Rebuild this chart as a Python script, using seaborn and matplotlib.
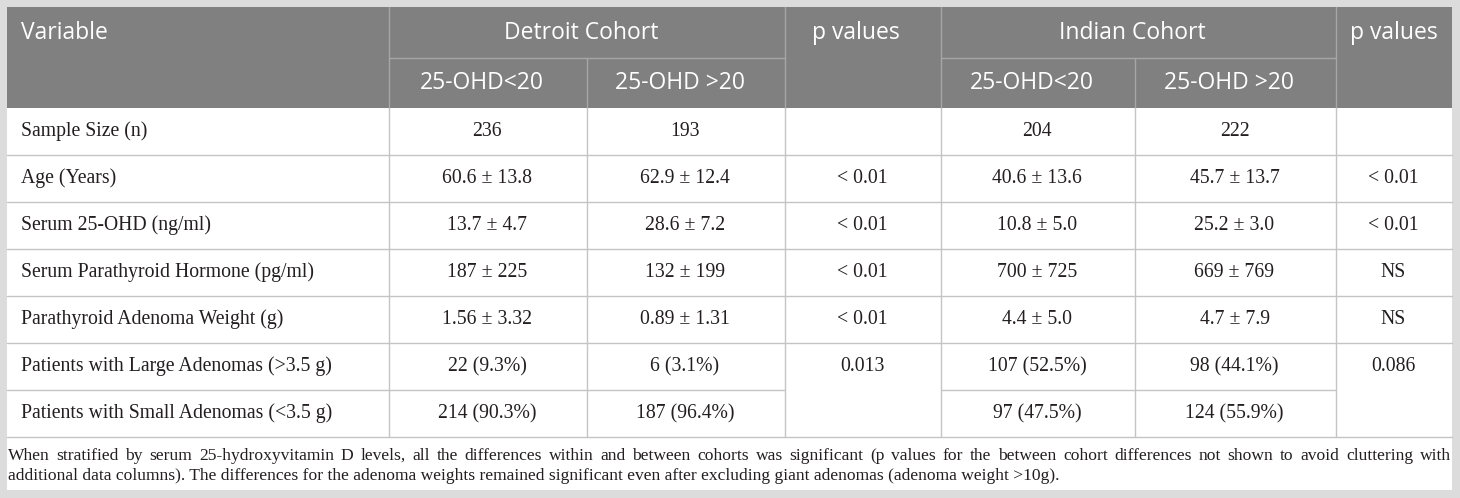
import matplotlib
matplotlib.use("Agg")
import matplotlib.pyplot as plt
import seaborn as sns
from matplotlib.patches import Rectangle

sns.set_theme(style="white")

# ---------------- data ----------------
variables = [
    "Sample Size (n)",
    "Age (Years)",
    "Serum 25-OHD (ng/ml)",
    "Serum Parathyroid Hormone (pg/ml)",
    "Parathyroid Adenoma Weight (g)",
    "Patients with Large Adenomas (>3.5 g)",
    "Patients with Small Adenomas (<3.5 g)",
]
detroit_low = ["236", "60.6 ± 13.8", "13.7 ± 4.7", "187 ± 225", "1.56 ± 3.32", "22 (9.3%)", "214 (90.3%)"]
detroit_high = ["193", "62.9 ± 12.4", "28.6 ± 7.2", "132 ± 199", "0.89 ± 1.31", "6 (3.1%)", "187 (96.4%)"]
detroit_p = ["", "< 0.01", "< 0.01", "< 0.01", "< 0.01", "0.013", None]
indian_low = ["204", "40.6 ± 13.6", "10.8 ± 5.0", "700 ± 725", "4.4 ± 5.0", "107 (52.5%)", "97 (47.5%)"]
indian_high = ["222", "45.7 ± 13.7", "25.2 ± 3.0", "669 ± 769", "4.7 ± 7.9", "98 (44.1%)", "124 (55.9%)"]
indian_p = ["", "< 0.01", "< 0.01", "NS", "NS", "0.086", None]

header_top = ["Variable", "Detroit Cohort", "p values", "Indian Cohort", "p values"]
header_sub = ["25-OHD<20", "25-OHD >20", "25-OHD<20", "25-OHD >20"]
footnote = [
    "When stratified by serum 25-hydroxyvitamin D levels, all the differences within and between cohorts was significant (p values for the between cohort differences not shown to avoid cluttering with",
    "additional data columns). The differences for the adenoma weights remained significant even after excluding giant adenomas (adenoma weight >10g).",
]

# ---------------- layout ----------------
W, H = 1460, 498
L, R = 7, 1452
col_x = [L, 389, 587, 785, 941, 1135, 1336, R]
hdr_top, hdr_mid, hdr_bot = 7, 58, 108
row_h = 47
n_rows = len(variables)
table_bot = hdr_bot + n_rows * row_h
foot_bot = 490

HEADER_BG = "#808080"
HEADER_LINE = "#a6a6a6"
GRID = "#c4c4c4"
FRAME = "#dcdcdc"
TXT = "#231f20"

fig = plt.figure(figsize=(W / 100, H / 100), dpi=100)
fig.patch.set_facecolor(FRAME)
ax = fig.add_axes([0, 0, 1, 1])
ax.set_xlim(0, W)
ax.set_ylim(H, 0)
ax.axis("off")

# white body
ax.add_patch(Rectangle((L, hdr_top), R - L, foot_bot - hdr_top, facecolor="white", edgecolor="none", zorder=0))
# header
ax.add_patch(Rectangle((L, hdr_top), R - L, hdr_bot - hdr_top, facecolor=HEADER_BG, edgecolor="none", zorder=1))

# header lines
for x in [col_x[1], col_x[3], col_x[4], col_x[6]]:
    ax.plot([x, x], [hdr_top, hdr_bot], color=HEADER_LINE, lw=1, zorder=2)
for x in [col_x[2], col_x[5]]:
    ax.plot([x, x], [hdr_mid, hdr_bot], color=HEADER_LINE, lw=1, zorder=2)
ax.plot([col_x[1], col_x[3]], [hdr_mid, hdr_mid], color=HEADER_LINE, lw=1, zorder=2)
ax.plot([col_x[4], col_x[6]], [hdr_mid, hdr_mid], color=HEADER_LINE, lw=1, zorder=2)

# body grid
for i in range(1, n_rows + 1):
    y = hdr_bot + i * row_h
    if i == n_rows - 1:
        for a, b in [(0, 3), (4, 6)]:
            ax.plot([col_x[a], col_x[b]], [y, y], color=GRID, lw=1, zorder=2)
    else:
        ax.plot([L, R], [y, y], color=GRID, lw=1, zorder=2)
for x in col_x[1:-1]:
    ax.plot([x, x], [hdr_bot, table_bot], color=GRID, lw=1, zorder=2)

HFONT = ["Open Sans", "DejaVu Sans"]
BFONT = ["Liberation Serif", "DejaVu Serif"]
hsize = 16.5
bsize = 14.2
fsize = 12.6

def cx(a, b):
    return (col_x[a] + col_x[b]) / 2

# header texts
ytop = 33
ysub = 83
hshift = -6
hkw = dict(color="white", fontsize=hsize, family=HFONT, va="center", zorder=3)
ax.text(21, ytop, header_top[0], ha="left", **hkw)
ax.text(cx(1, 3) + hshift, ytop, header_top[1], ha="center", **hkw)
ax.text(cx(3, 4) - 7, ytop, header_top[2], ha="center", **hkw)
ax.text(cx(4, 6) + hshift, ytop, header_top[3], ha="center", **hkw)
ax.text(cx(6, 7), ytop, header_top[4], ha="center", **hkw)
for (a, b), s in zip([(1, 2), (2, 3), (4, 5), (5, 6)], header_sub):
    ax.text(cx(a, b) + hshift, ysub, s, ha="center", **hkw)

# body texts
columns = [detroit_low, detroit_high, detroit_p, indian_low, indian_high, indian_p]
for i, var in enumerate(variables):
    yc = hdr_bot + i * row_h + row_h / 2
    ax.text(21, yc, var, color=TXT, fontsize=bsize, family=BFONT, ha="left", va="center", zorder=3)
    for j, col in enumerate(columns):
        v = col[i]
        if v:
            ax.text(cx(j + 1, j + 2) - 1, yc, v, color=TXT, fontsize=bsize, family=BFONT, ha="center", va="center", zorder=3)

# footnote (first line justified to the full width)
renderer = fig.canvas.get_renderer()
fkw = dict(color=TXT, fontsize=fsize, family=BFONT, va="center", ha="left", zorder=3)
x0, x1 = L + 1, R - 1
words = footnote[0].split(" ")
tmp = [ax.text(0, 0, w, **fkw) for w in words]
widths = [t.get_window_extent(renderer).width for t in tmp]
for t in tmp:
    t.remove()
gap = (x1 - x0 - sum(widths)) / (len(words) - 1)
xx = x0
for w, wd in zip(words, widths):
    ax.text(xx, 456, w, **fkw)
    xx += wd + gap
ax.text(x0, 476, footnote[1], **fkw)

fig.savefig("out.png", dpi=100, facecolor=fig.get_facecolor())
